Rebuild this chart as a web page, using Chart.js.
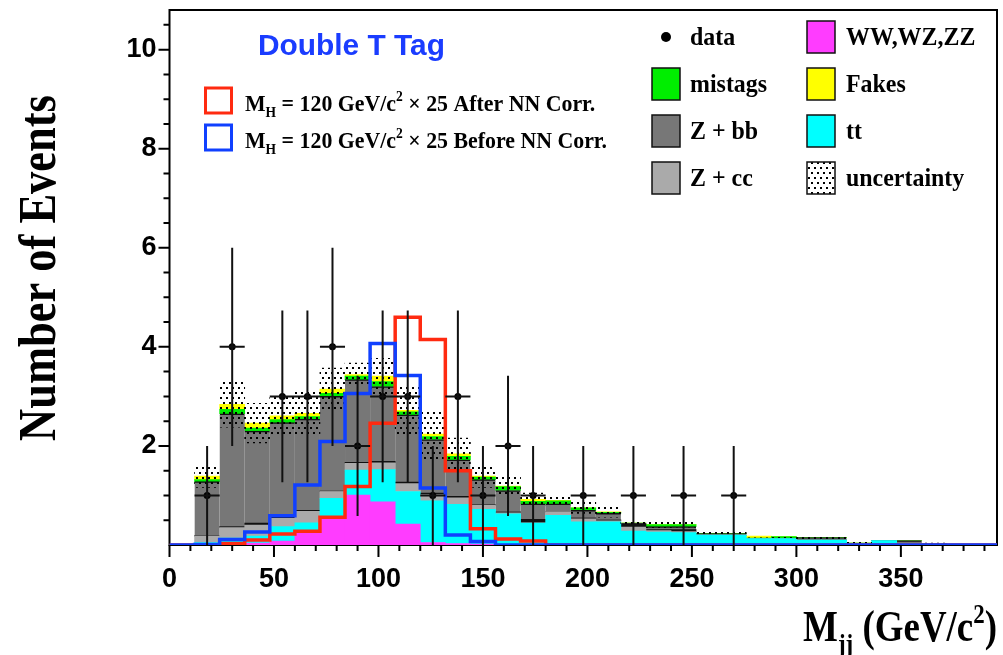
<!DOCTYPE html>
<html>
<head>
<meta charset="utf-8">
<script src="https://cdn.jsdelivr.net/npm/chart.js@4.4.1/dist/chart.umd.min.js"></script>
<style>
  html, body { margin: 0; padding: 0; background: #fff; }
  #wrap { width: 1003px; height: 655px; }
</style>
</head>
<body>
<div id="wrap"><canvas id="mjj" width="1003" height="655"></canvas></div>
<script>
// Dijet invariant mass in the double-tight-tag channel:
// stacked background expectation, its uncertainty, observed events
// and the 120 GeV/c^2 Higgs template (x25) before/after the NN correction.

const binEdges = [0, 12, 24, 36, 48, 60, 72, 84, 96, 108, 120, 132, 144, 156, 168, 180, 192,
  204, 216, 228, 240, 252, 264, 276, 288, 300, 312, 324, 336, 348, 360, 372, 384, 396];

const dataCounts = [0, 1, 4, 0, 3, 3, 4, 2, 3, 3, 1, 3, 1, 2, 1, 0, 1, 0, 1, 0, 1, 0, 1,
  0, 0, 0, 0, 0, 0, 0, 0, 0, 0];

const bkgDiboson = [0, 0.01, 0.02, 0.04, 0.08, 0.24, 0.58, 1.01, 0.87, 0.42, 0.05, 0.03, 0.02, 0.01,
  0, 0, 0, 0, 0, 0, 0, 0, 0, 0, 0, 0, 0, 0, 0, 0, 0, 0, 0];
const bkgTop = [0, 0.04, 0.12, 0.14, 0.29, 0.21, 0.36, 0.50, 0.65, 0.66, 0.84, 0.79, 0.70, 0.62,
  0.44, 0.60, 0.47, 0.47, 0.28, 0.26, 0.25, 0.20, 0.20, 0.13, 0.13, 0.10, 0.10, 0.02, 0.09, 0.01, 0.02, 0, 0];
const bkgZcc = [0, 0.13, 0.21, 0.22, 0.17, 0.23, 0.14, 0.14, 0.14, 0.16, 0.13, 0.13, 0.08, 0.02,
  0.01, 0.07, 0.06, 0.02, 0.08, 0.03, 0.02, 0, 0, 0, 0, 0, 0, 0, 0, 0, 0, 0, 0];
const bkgOther = [0, 0.01, 0.02, 0.04, 0.02, 0.02, 0.01, 0.02, 0.03, 0.03, 0.03, 0.03, 0.01, 0.02,
  0.07, 0, 0.02, 0.02, 0.07, 0.02, 0.04, 0, 0, 0, 0, 0, 0, 0, 0, 0, 0, 0, 0];
const bkgZbb = [0, 1.09, 2.28, 1.86, 1.91, 1.84, 1.91, 1.67, 1.51, 1.36, 1.08, 0.74, 0.51, 0.43,
  0.31, 0.16, 0.15, 0.13, 0.01, 0.06, 0.06, 0.03, 0.03, 0.01, 0.01, 0.05, 0.05, 0.02, 0, 0.08, 0, 0, 0];
const bkgMistag = [0, 0.04, 0.09, 0.06, 0.06, 0.05, 0.06, 0.07, 0.10, 0.06, 0.06, 0.07, 0.05, 0.08,
  0.05, 0.06, 0.05, 0.02, 0, 0.04, 0.04, 0, 0, 0, 0.03, 0, 0, 0, 0, 0, 0, 0, 0];
const bkgFakes = [0, 0.07, 0.10, 0.10, 0.08, 0.07, 0.09, 0.03, 0.11, 0.03, 0.05, 0.05, 0.02, 0.01,
  0.04, 0.01, 0, 0.01, 0, 0, 0, 0, 0, 0.04, 0, 0, 0, 0, 0, 0, 0, 0, 0];
const bkgUncert = [0, 0.23, 0.46, 0.40, 0.38, 0.42, 0.42, 0.23, 0.36, 0.50, 0.50, 0.32, 0.23, 0.19,
  0.13, 0.11, 0.11, 0.11, 0.06, 0.06, 0.05, 0.03, 0.03, 0.02, 0.02, 0.02, 0.02, 0.05, 0.02, 0.02, 0.02, 0, 0];

const sigAfterNN = [0, 0, 0.03, 0.10, 0.22, 0.28, 0.56, 1.18, 2.46, 4.60, 4.15, 1.50, 0.33, 0.12,
  0.08, 0, 0, 0, 0, 0, 0, 0, 0, 0, 0, 0, 0, 0, 0, 0, 0, 0, 0];
const sigBeforeNN = [0, 0.01, 0.11, 0.26, 0.59, 1.21, 2.09, 3.06, 4.07, 3.42, 1.15, 0.20, 0.07, 0,
  0, 0, 0, 0, 0, 0, 0, 0, 0, 0, 0, 0, 0, 0, 0, 0, 0, 0, 0];

const xTickValues = [0, 50, 100, 150, 200, 250, 300, 350];
const yTickValues = [2, 4, 6, 8, 10];

const channelTitle = 'Double T Tag';
const xTitle = 'M_{jj} (GeV/c^{2})';
const yTitle = 'Number of Events';

// ---- derived series -------------------------------------------------------
const binCenters = binEdges.slice(0, -1).map((e, i) => (e + binEdges[i + 1]) / 2);
const asBars = arr => arr.map((v, i) => ({ x: binCenters[i], y: v }));
const stackComponents = [bkgDiboson, bkgTop, bkgZcc, bkgOther, bkgZbb, bkgMistag, bkgFakes];
const bkgTotal = binCenters.map((_, i) => stackComponents.reduce((s, a) => s + a[i], 0));
const bandBars = bkgTotal.map((t, i) => ({ x: binCenters[i], y: t > 0 ? [t - bkgUncert[i], t + bkgUncert[i]] : null }));
const asSteps = arr => binEdges.map((e, i) => ({ x: e, y: arr[Math.min(i, arr.length - 1)] }));
const dataPoints = dataCounts
  .map((n, i) => ({ x: binCenters[i], y: n, lo: binEdges[i], hi: binEdges[i + 1] }))
  .filter(p => p.y > 0);

// dotted fill for the uncertainty band
function dotPattern() {
  const t = document.createElement('canvas');
  t.width = 6; t.height = 10;
  const c = t.getContext('2d');
  c.fillStyle = '#000';
  c.fillRect(1, 2, 2, 2);
  c.fillRect(4, 7, 2, 2);
  return document.getElementById('mjj').getContext('2d').createPattern(t, 'repeat');
}
const dots = dotPattern();

// ---- rich text helper (sub/superscripts, horizontal squeeze) -------------
function richParts(str) {
  const parts = [];
  const re = /([_^])\{([^}]*)\}/g;
  let last = 0, m;
  while ((m = re.exec(str))) {
    if (m.index > last) parts.push({ t: str.slice(last, m.index), k: '' });
    parts.push({ t: m[2], k: m[1] });
    last = re.lastIndex;
  }
  if (last < str.length) parts.push({ t: str.slice(last), k: '' });
  return parts;
}
function drawRich(ctx, str, x, y, o) {
  const parts = richParts(str);
  const fontFor = k => `${o.weight || 'bold'} ${k ? o.size * 0.62 : o.size}px ${o.family}`;
  let w = 0;
  parts.forEach(p => { ctx.font = fontFor(p.k); p.w = ctx.measureText(p.t).width; w += p.w; });
  ctx.save();
  ctx.translate(x, y);
  ctx.scale(o.sx || 1, 1);
  let cx = o.align === 'right' ? -w : o.align === 'center' ? -w / 2 : 0;
  ctx.fillStyle = o.color || '#000';
  ctx.textBaseline = 'alphabetic';
  ctx.textAlign = 'left';
  parts.forEach(p => {
    ctx.font = fontFor(p.k);
    const dy = p.k === '_' ? o.size * 0.28 : p.k === '^' ? -o.size * 0.42 : 0;
    ctx.fillText(p.t, cx, dy);
    cx += p.w;
  });
  ctx.restore();
}

const SERIF = '"Liberation Serif", "Times New Roman", serif';
const SANS = '"Liberation Sans", Arial, sans-serif';

// ---- plugins --------------------------------------------------------------
const frameAndTicks = {
  id: 'frameAndTicks',
  beforeDatasetsDraw(chart) {
    const { ctx, chartArea: a } = chart;
    ctx.save();
    ctx.strokeStyle = '#000';
    ctx.lineWidth = 2;
    ctx.strokeRect(a.left, a.top, a.right - a.left, a.bottom - a.top);
    ctx.restore();
  },
  afterDraw(chart) {
    const { ctx, chartArea: a, scales: { x, y } } = chart;
    ctx.save();
    ctx.strokeStyle = '#000';
    ctx.lineWidth = 2;
    ctx.beginPath();
    for (let v = 0; v < x.max; v += 10) {
      const px = x.getPixelForValue(v);
      const len = v % 50 === 0 ? 12 : 6;
      ctx.moveTo(px, a.bottom); ctx.lineTo(px, a.bottom + len);
    }
    for (let v = 0.5; v < y.max; v += 0.5) {
      const py = y.getPixelForValue(v);
      const len = v % 2 === 0 ? 11 : 6;
      ctx.moveTo(a.left, py); ctx.lineTo(a.left - len, py);
    }
    ctx.stroke();
    ctx.restore();

    drawRich(ctx, xTitle, 997, 641, { size: 44, family: SERIF, sx: 0.84, align: 'right' });
    ctx.save();
    ctx.translate(55, 268);
    ctx.rotate(-Math.PI / 2);
    drawRich(ctx, yTitle, 0, 0, { size: 52, family: SERIF, sx: 0.855, align: 'center' });
    ctx.restore();
  }
};

const errorBars = {
  id: 'errorBars',
  afterDatasetsDraw(chart) {
    const { ctx, scales: { x, y } } = chart;
    const ds = chart.data.datasets.find(d => d.key === 'data');
    ctx.save();
    ctx.strokeStyle = '#111';
    ctx.lineWidth = 2;
    ctx.beginPath();
    ds.data.forEach(p => {
      const err = Math.sqrt(p.y);
      const px = x.getPixelForValue(p.x), py = y.getPixelForValue(p.y);
      ctx.moveTo(px, y.getPixelForValue(Math.max(0, p.y - err)));
      ctx.lineTo(px, y.getPixelForValue(p.y + err));
      ctx.moveTo(x.getPixelForValue(p.lo), py);
      ctx.lineTo(x.getPixelForValue(p.hi), py);
    });
    ctx.stroke();
    ctx.restore();
  }
};

const legendCols = [['data', 'mistag', 'zbb', 'zcc'], ['diboson', 'fakes', 'top', 'uncert']];
const signalKeys = ['after', 'before'];

const boxLegend = {
  id: 'boxLegend',
  afterDraw(chart) {
    const ctx = chart.ctx;
    const byKey = k => chart.data.datasets.find(d => d.key === k);
    ctx.save();
    drawRich(ctx, channelTitle, 258, 55, { size: 29, family: SANS, sx: 1.03, color: '#1a3cff' });

    signalKeys.forEach((k, i) => {
      const d = byKey(k);
      const top = 88 + i * 37;
      ctx.lineWidth = 3;
      ctx.strokeStyle = d.borderColor;
      ctx.strokeRect(205.5, top, 26, 25);
      drawRich(ctx, d.label, 245, top + 22.5, { size: 23, family: SERIF, sx: 0.95 });
    });

    const swX = [652, 807], txX = [690, 846];
    legendCols.forEach((col, c) => {
      col.forEach((k, r) => {
        const d = byKey(k);
        const top = 21 + r * 47;
        if (k === 'data') {
          ctx.fillStyle = '#000';
          ctx.beginPath();
          ctx.arc(swX[c] + 14, top + 16, 5, 0, Math.PI * 2);
          ctx.fill();
        } else {
          if (k === 'uncert') {
            ctx.fillStyle = '#fff';
            ctx.fillRect(swX[c], top, 28, 32);
          }
          ctx.fillStyle = d.backgroundColor;
          ctx.fillRect(swX[c], top, 28, 32);
          ctx.lineWidth = 1.5;
          ctx.strokeStyle = '#111';
          ctx.strokeRect(swX[c], top, 28, 32);
        }
        drawRich(ctx, d.label, txX[c], top + 24, { size: 26, family: SERIF, sx: 0.92 });
      });
    });
    ctx.restore();
  }
};

// ---- chart ----------------------------------------------------------------
const barCommon = { type: 'bar', grouped: false, categoryPercentage: 1, barPercentage: 1, borderWidth: 0, stack: 'bkg' };
const noScalePadding = s => { s.paddingTop = 0; s.paddingBottom = 0; s.paddingLeft = 0; s.paddingRight = 0; };

new Chart(document.getElementById('mjj'), {
  type: 'bar',
  data: {
    datasets: [
      { key: 'data', label: 'data', type: 'line', data: dataPoints, showLine: false, stack: 'obs',
        pointRadius: 3.5, pointBackgroundColor: '#000', pointBorderWidth: 0, order: 0 },
      { key: 'before', label: 'M_{H} = 120 GeV/c^{2} \u00d7 25 Before NN Corr.', type: 'line',
        data: asSteps(sigBeforeNN), stepped: true, borderColor: '#1040ff', borderWidth: 3.5,
        pointRadius: 0, fill: false, stack: 'sigB', order: 1 },
      { key: 'after', label: 'M_{H} = 120 GeV/c^{2} \u00d7 25 After NN Corr.', type: 'line',
        data: asSteps(sigAfterNN), stepped: true, borderColor: '#ff2a10', borderWidth: 3.5,
        pointRadius: 0, fill: false, stack: 'sigA', order: 2 },
      { ...barCommon, key: 'uncert', label: 'uncertainty', data: bandBars, backgroundColor: dots, stack: 'band', order: 3 },
      { ...barCommon, key: 'diboson', label: 'WW,WZ,ZZ', data: asBars(bkgDiboson), backgroundColor: '#ff3cff', order: 10 },
      { ...barCommon, key: 'top', label: 'tt', data: asBars(bkgTop), backgroundColor: '#00ffff', order: 11 },
      { ...barCommon, key: 'zcc', label: 'Z + cc', data: asBars(bkgZcc), backgroundColor: '#aaaaaa', order: 12 },
      { ...barCommon, key: 'other', label: 'other', data: asBars(bkgOther), backgroundColor: '#111111', order: 13 },
      { ...barCommon, key: 'zbb', label: 'Z + bb', data: asBars(bkgZbb), backgroundColor: '#777777',
        borderColor: '#111', borderWidth: { top: 1.5, left: 0, right: 0, bottom: 0 }, borderSkipped: false, order: 14 },
      { ...barCommon, key: 'mistag', label: 'mistags', data: asBars(bkgMistag), backgroundColor: '#00ee00', order: 15 },
      { ...barCommon, key: 'fakes', label: 'Fakes', data: asBars(bkgFakes), backgroundColor: '#ffff00', order: 16 }
    ]
  },
  options: {
    responsive: false,
    animation: false,
    layout: { padding: { top: 10, right: 6, left: 0, bottom: 0 } },
    plugins: { legend: { display: false }, tooltip: { enabled: false } },
    scales: {
      x: {
        type: 'linear', min: binEdges[0], max: binEdges[binEdges.length - 1], offset: false,
        grid: { display: false, drawTicks: false }, border: { display: false },
        afterBuildTicks: s => { s.ticks = xTickValues.map(v => ({ value: v })); },
        afterFit: s => { s.height = 110; noScalePadding(s); },
        ticks: { padding: 18, color: '#000', maxRotation: 0, autoSkip: false,
          font: { family: SANS, size: 27, weight: 'bold' } }
      },
      y: {
        type: 'linear', min: 0, max: 10.8, stacked: true,
        grid: { display: false, drawTicks: false }, border: { display: false },
        afterBuildTicks: s => { s.ticks = yTickValues.map(v => ({ value: v })); },
        afterFit: s => { s.width = 169.5; noScalePadding(s); },
        ticks: { padding: 13, color: '#000', autoSkip: false,
          font: { family: SANS, size: 27, weight: 'bold' } }
      }
    }
  },
  plugins: [frameAndTicks, errorBars, boxLegend]
});
</script>
</body>
</html>
